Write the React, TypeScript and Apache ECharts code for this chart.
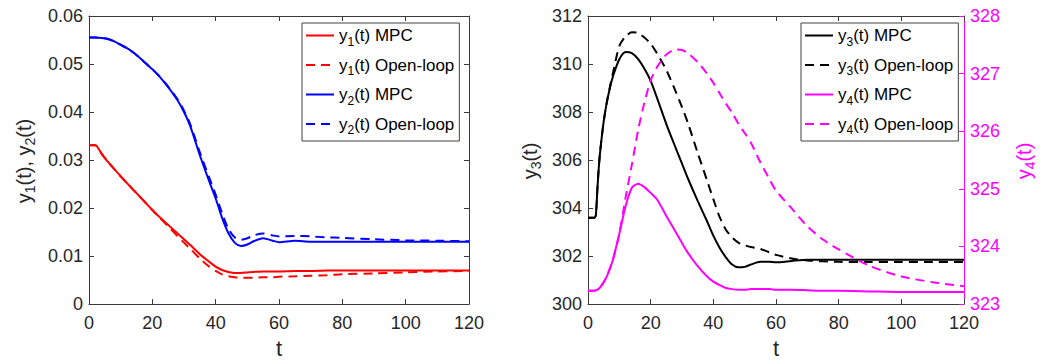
import React, { useEffect, useRef } from "react";
import * as echarts from "echarts";

// time grids
const tLeft = [0, 2, 4, 6, 8, 10, 12, 14, 16, 18, 20, 22, 25, 28, 30, 32, 35, 38, 40, 42, 44, 46, 48, 50, 52, 55, 58, 60, 65, 70, 75, 80, 90, 100, 110, 120];
const tRight = [0, 2, 2.5, 3, 3.5, 4, 5, 6, 7, 8, 10, 12, 14, 16, 18, 20, 22, 25, 28, 30, 32, 35, 38, 40, 42, 44, 46, 48, 50, 52, 55, 58, 60, 65, 70, 75, 80, 90, 100, 110, 120];

// left subplot
const y1MPC = [0.0331, 0.0331, 0.0313, 0.0296, 0.0281, 0.0266, 0.0252, 0.0238, 0.0224, 0.0210, 0.0196, 0.0183, 0.0165, 0.0147, 0.0135, 0.0123, 0.0104, 0.0088, 0.0078, 0.0071, 0.0067, 0.0065, 0.0065, 0.0066, 0.0067, 0.0068, 0.0068, 0.0068, 0.0069, 0.0069, 0.0070, 0.0070, 0.0070, 0.0070, 0.0070, 0.0070];
const y1OL = [0.0331, 0.0331, 0.0313, 0.0296, 0.0281, 0.0266, 0.0252, 0.0238, 0.0224, 0.0210, 0.0196, 0.0182, 0.0162, 0.0141, 0.0128, 0.0115, 0.0095, 0.0078, 0.0069, 0.0062, 0.0058, 0.0056, 0.0055, 0.0055, 0.0055, 0.0056, 0.0056, 0.0057, 0.0058, 0.0059, 0.0060, 0.0062, 0.0064, 0.0066, 0.0068, 0.0069];
const y2MPC = [0.0555, 0.0555, 0.0554, 0.0552, 0.0547, 0.0540, 0.0533, 0.0524, 0.0513, 0.0501, 0.0489, 0.0476, 0.0452, 0.0424, 0.0400, 0.0370, 0.0310, 0.0255, 0.0220, 0.0180, 0.0148, 0.0128, 0.0121, 0.0124, 0.0131, 0.0137, 0.0132, 0.0129, 0.0132, 0.0130, 0.0130, 0.0130, 0.0130, 0.0130, 0.0130, 0.0130];
const y2OL = [0.0555, 0.0555, 0.0554, 0.0552, 0.0547, 0.0540, 0.0533, 0.0524, 0.0513, 0.0501, 0.0489, 0.0476, 0.0453, 0.0426, 0.0403, 0.0374, 0.0316, 0.0263, 0.0228, 0.0190, 0.0157, 0.0139, 0.0134, 0.0137, 0.0143, 0.0147, 0.0143, 0.0141, 0.0142, 0.0141, 0.0139, 0.0138, 0.0135, 0.0133, 0.0132, 0.0131];

// right subplot
const y3MPC = [303.6, 303.6, 303.7, 304.8, 305.8, 306.5, 307.6, 308.4, 309.0, 309.5, 310.2, 310.5, 310.45, 310.2, 309.8, 309.3, 308.6, 307.5, 306.5, 305.85, 305.2, 304.3, 303.45, 302.85, 302.35, 301.95, 301.65, 301.53, 301.55, 301.65, 301.76, 301.76, 301.74, 301.8, 301.85, 301.85, 301.85, 301.85, 301.85, 301.85, 301.85];
const y3OL = [303.6, 303.6, 303.7, 304.8, 305.8, 306.5, 307.6, 308.4, 309.05, 309.65, 310.75, 311.15, 311.32, 311.3, 311.1, 310.85, 310.45, 309.75, 308.85, 308.2, 307.5, 306.3, 305.15, 304.37, 303.63, 303.1, 302.78, 302.56, 302.45, 302.38, 302.3, 302.15, 302.05, 301.9, 301.82, 301.78, 301.76, 301.75, 301.75, 301.75, 301.75];
const y4MPC = [323.23, 323.23, 323.24, 323.25, 323.27, 323.3, 323.38, 323.48, 323.62, 323.78, 324.22, 324.7, 325.02, 325.09, 325.03, 324.93, 324.82, 324.53, 324.25, 324.06, 323.88, 323.66, 323.48, 323.39, 323.33, 323.28, 323.26, 323.25, 323.25, 323.26, 323.26, 323.26, 323.25, 323.25, 323.24, 323.23, 323.23, 323.22, 323.21, 323.21, 323.21];
const y4OL = [323.23, 323.23, 323.24, 323.25, 323.27, 323.3, 323.38, 323.48, 323.62, 323.78, 324.22, 324.85, 325.42, 326.02, 326.5, 326.88, 327.11, 327.33, 327.42, 327.41, 327.35, 327.2, 327.0, 326.84, 326.66, 326.48, 326.32, 326.13, 325.97, 325.8, 325.46, 325.16, 324.97, 324.66, 324.35, 324.12, 323.95, 323.66, 323.48, 323.38, 323.31];

const xTicksMin = 0, xTicksMax = 120, xInterval = 20;
const leftNames = ["y1(t) MPC", "y1(t) Open-loop", "y2(t) MPC", "y2(t) Open-loop"];
const rightNames = ["y3(t) MPC", "y3(t) Open-loop", "y4(t) MPC", "y4(t) Open-loop"];

const FONT = "'Liberation Sans', Arial, Helvetica, sans-serif";
const AX = "#262626";
const FRAME = "#3a3a3a";
const MAG = "#FF00FF";
const SUB = { fontSize: 12, fontFamily: FONT, padding: [12, 0, 0, 0] };

const pair = (t: number[], v: number[]) => t.map((x, i) => [x, v[i]]);

export default function App() {
  const ref = useRef<HTMLDivElement>(null);
  useEffect(() => {
    if (!ref.current) return;
    const chart = echarts.init(ref.current, undefined, { renderer: "svg" });

    const xBase = (gridIndex: number, nameGap: number) => ({
      type: "value", gridIndex, min: xTicksMin, max: xTicksMax, interval: xInterval,
      position: "bottom",
      axisLine: { show: true, onZero: false, lineStyle: { color: FRAME, width: 1 } },
      axisTick: { show: true, inside: true, length: 5, lineStyle: { color: FRAME } },
      axisLabel: { show: true, color: AX, fontSize: 18, fontFamily: FONT, margin: 10 },
      splitLine: { show: false },
      name: "t", nameLocation: "middle", nameGap,
      nameTextStyle: { color: AX, fontSize: 22, fontFamily: FONT },
    });
    const xTop = (gridIndex: number) => ({
      type: "value", gridIndex, min: xTicksMin, max: xTicksMax, interval: xInterval,
      position: "top",
      axisLine: { show: true, onZero: false, lineStyle: { color: FRAME, width: 1 } },
      axisTick: { show: true, inside: true, length: 5, lineStyle: { color: FRAME } },
      axisLabel: { show: false }, splitLine: { show: false },
    });
    const yAx = (gridIndex: number, position: string, min: number, max: number, interval: number, color: string, labelColor: string, showLabel: boolean, fmt?: (v: number) => string) => ({
      type: "value", gridIndex, position, min, max, interval,
      axisLine: { show: true, onZero: false, lineStyle: { color, width: 1 } },
      axisTick: { show: true, inside: true, length: 5, lineStyle: { color } },
      axisLabel: { show: showLabel, color: labelColor, fontSize: 18, fontFamily: FONT, margin: 6, formatter: fmt },
      splitLine: { show: false },
    });

    const line = (name: string, t: number[], v: number[], color: string, dashed: boolean, xi: number, yi: number) => ({
      name, type: "line", xAxisIndex: xi, yAxisIndex: yi, data: pair(t, v),
      symbol: "none", showSymbol: false, smooth: 0.25,
      lineStyle: { color, width: 2, type: dashed ? [9, 6] : "solid" },
      itemStyle: { color },
      emphasis: { disabled: true },
    });

    const legendCommon = {
      orient: "vertical", itemWidth: 28, itemHeight: 14, itemGap: 9,
      borderColor: "#404040", borderWidth: 1, backgroundColor: "#fff",
      itemStyle: { opacity: 0 },
      textStyle: { color: "#000", fontSize: 17, fontFamily: FONT, rich: { sub: SUB } },
      formatter: (n: string) => n.replace(/^y(\d)/, "y{sub|$1}"),
      selectedMode: false,
    };

    chart.setOption({
      animation: false,
      backgroundColor: "#fff",
      grid: [
        { left: 89, top: 16, width: 380, height: 289, containLabel: false },
        { left: 588, top: 16, width: 376, height: 289, containLabel: false },
      ],
      xAxis: [xBase(0, 32), xBase(1, 24), xTop(0), xTop(1)],
      yAxis: [
        yAx(0, "left", 0, 0.06, 0.01, FRAME, AX, true, (v: number) => (v === 0 ? "0" : v.toFixed(2))),
        yAx(0, "right", 0, 0.06, 0.01, FRAME, AX, false),
        yAx(1, "left", 300, 312, 2, FRAME, AX, true),
        yAx(1, "right", 323, 328, 1, MAG, MAG, true),
      ],
      legend: [
        { ...legendCommon, data: leftNames, left: 302, top: 23, padding: [4, 5, 5, 3] },
        { ...legendCommon, data: rightNames, left: 801, top: 23, padding: [4, 5, 5, 3] },
      ],
      graphic: [
        { type: "text", x: 24, y: 161, rotation: Math.PI / 2,
          style: { text: "y{sub|1}(t), y{sub|2}(t)", fill: AX, fontSize: 20, fontFamily: FONT, align: "center", verticalAlign: "middle", rich: { sub: { ...SUB, fontSize: 14, fill: AX } } } },
        { type: "text", x: 530, y: 161, rotation: Math.PI / 2,
          style: { text: "y{sub|3}(t)", fill: AX, fontSize: 20, fontFamily: FONT, align: "center", verticalAlign: "middle", rich: { sub: { ...SUB, fontSize: 14, fill: AX } } } },
        { type: "text", x: 1024, y: 161, rotation: Math.PI / 2,
          style: { text: "y{sub|4}(t)", fill: MAG, fontSize: 20, fontFamily: FONT, align: "center", verticalAlign: "middle", rich: { sub: { ...SUB, fontSize: 14, fill: MAG } } } },
      ],
      series: [
        line(leftNames[0], tLeft, y1MPC, "#FF0000", false, 0, 0),
        line(leftNames[1], tLeft, y1OL, "#FF0000", true, 0, 0),
        line(leftNames[2], tLeft, y2MPC, "#0000FF", false, 0, 0),
        line(leftNames[3], tLeft, y2OL, "#0000FF", true, 0, 0),
        line(rightNames[0], tRight, y3MPC, "#000000", false, 1, 2),
        line(rightNames[1], tRight, y3OL, "#000000", true, 1, 2),
        line(rightNames[2], tRight, y4MPC, MAG, false, 1, 3),
        line(rightNames[3], tRight, y4OL, MAG, true, 1, 3),
      ],
    });
    return () => chart.dispose();
  }, []);
  return <div ref={ref} style={{ position: "fixed", left: 0, top: 0, width: 1047, height: 364 }} />;
}
